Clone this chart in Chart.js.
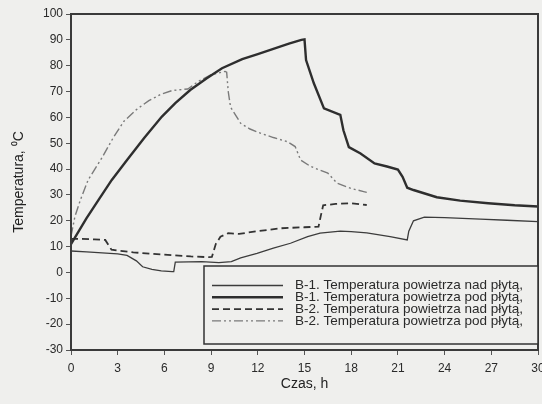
<!DOCTYPE html>
<html>
<head>
<meta charset="utf-8">
<script src="https://cdn.jsdelivr.net/npm/chart.js@4/dist/chart.umd.min.js"></script>
<style>
  html, body { margin: 0; padding: 0; background: #efefed; }
  #wrap { width: 542px; height: 404px; }
</style>
</head>
<body>
<div id="wrap"><canvas id="wykres" width="542" height="404"></canvas></div>
<script>
// czas [h] i temperatura [°C]
var b1NadT = [0, 1, 2, 3, 3.6, 4.2, 4.6, 5.2, 5.8, 6.5, 6.6, 6.7, 8.4, 9.5, 10.3, 10.9, 11.95, 13, 14.1, 15.2, 16, 17.3, 18, 19, 20.5, 21.6, 21.7, 22, 22.7, 24, 26.3, 28, 30];
var b1NadY = [8.3, 8, 7.6, 7.2, 6.6, 4.5, 2.2, 1.2, 0.6, 0.3, 0.3, 4, 4.2, 3.8, 4.2, 5.6, 7.4, 9.4, 11.3, 13.9, 15.2, 16, 15.8, 15.3, 13.9, 12.6, 16, 20, 21.4, 21.2, 20.6, 20.2, 19.7];

var b1PodT = [0, 0.5, 1, 1.76, 2.62, 3.6, 4.7, 5.84, 6.7, 7.66, 8.7, 9.7, 11, 12, 13, 14, 14.8, 15.0, 15.1, 15.6, 16.25, 17.3, 17.5, 17.85, 18.6, 19.5, 20.3, 21, 21.3, 21.6, 22, 23.5, 25, 26.8, 28.5, 30];
var b1PodY = [11, 16, 21, 28, 35.8, 43.5, 52, 60.3, 65.5, 70.6, 75, 79, 82.5, 84.5, 86.5, 88.5, 90, 90.2, 82.2, 73.2, 63.5, 61, 55, 48.5, 46, 42.2, 41, 39.8, 37, 32.8, 31.9, 29.1, 27.8, 26.8, 26, 25.5];

var b2NadT = [0, 0.5, 1.5, 2.2, 2.6, 3.1, 4, 5.2, 6.5, 7.7, 8.85, 9.05, 9.3, 9.6, 10.1, 10.8, 12, 13.5, 15, 15.9, 16.05, 16.2, 17, 18, 19];
var b2NadY = [13, 13, 12.8, 12.6, 8.8, 8.4, 7.8, 7.2, 6.7, 6.2, 5.9, 6, 11, 13.8, 15.2, 14.9, 16, 17.1, 17.5, 17.7, 22, 26, 26.5, 26.8, 26.1];

var b2PodT = [0, 0.25, 0.6, 1.1, 2.0, 2.7, 3.4, 4.2, 5.0, 5.8, 6.5, 7.5, 8.2, 9.0, 9.9, 10.0, 10.1, 10.25, 10.9, 11.5, 12.2, 13.0, 13.9, 14.4, 14.75, 15.4, 16.5, 17.1, 18, 18.8, 19];
var b2PodY = [14, 21.6, 28, 35.8, 44.5, 52, 58.5, 63, 66.5, 69, 70.4, 71, 74, 76.5, 77.8, 77.5, 70, 64, 57.7, 55.5, 53.8, 52.2, 50.6, 48.7, 43.5, 41, 38.4, 34.5, 32.5, 31.3, 31];

var etykiety = [
  "B-1. Temperatura powietrza nad płytą,",
  "B-1. Temperatura powietrza pod płytą,",
  "B-2. Temperatura powietrza nad płytą,",
  "B-2. Temperatura powietrza pod płytą,"
];
var xTicks = [0, 3, 6, 9, 12, 15, 18, 21, 24, 27, 30];
var yTicks = [-30, -20, -10, 0, 10, 20, 30, 40, 50, 60, 70, 80, 90, 100];

var czcionka = "'Liberation Sans', Arial, sans-serif";

function punkty(t, v) {
  return t.map(function (x, i) { return { x: x, y: v[i] }; });
}

// ramka wykresu + legenda w srodku pola wykresu
var ramka = {
  id: 'ramka',
  afterDatasetsDraw: function (chart) {
    var ctx = chart.ctx, a = chart.chartArea;
    ctx.save();
    ctx.strokeStyle = '#3a3a3a';
    ctx.lineWidth = 2;
    ctx.strokeRect(a.left, a.top, a.right - a.left, a.bottom - a.top);

    var bx = a.left + 133, by = a.top + 252, bw = a.right - bx, bh = 78;
    ctx.fillStyle = '#efefed';
    ctx.fillRect(bx, by, bw, bh);
    ctx.lineWidth = 1.5;
    ctx.strokeStyle = '#333';
    ctx.strokeRect(bx, by, bw, bh);

    ctx.font = '13.5px ' + czcionka;
    ctx.textBaseline = 'middle';
    chart.data.datasets.forEach(function (ds, i) {
      var y = by + 19.5 + i * 11.8;
      ctx.beginPath();
      ctx.strokeStyle = ds.borderColor;
      ctx.lineWidth = ds.borderWidth;
      ctx.setLineDash(ds.borderDash || []);
      ctx.moveTo(bx + 8, y);
      ctx.lineTo(bx + 79, y);
      ctx.stroke();
      ctx.setLineDash([]);
      ctx.fillStyle = '#2a2a2a';
      ctx.fillText(ds.label, bx + 91, y);
    });
    ctx.restore();
  }
};

var ctxWykres = document.getElementById('wykres');
var wykres = new Chart(ctxWykres, {
  type: 'line',
  data: {
    datasets: [
      { label: etykiety[0], data: punkty(b1NadT, b1NadY), borderColor: '#3c3c3c', borderWidth: 1.3 },
      { label: etykiety[1], data: punkty(b1PodT, b1PodY), borderColor: '#2e2e2e', borderWidth: 2.4 },
      { label: etykiety[2], data: punkty(b2NadT, b2NadY), borderColor: '#333', borderWidth: 1.8, borderDash: [7, 4] },
      { label: etykiety[3], data: punkty(b2PodT, b2PodY), borderColor: '#7a7a7a', borderWidth: 1.4, borderDash: [9, 3, 2, 3, 2, 3] }
    ]
  },
  options: {
    responsive: false,
    animation: false,
    devicePixelRatio: 1,
    layout: { padding: { left: 0, right: 4, top: 14, bottom: 0 } },
    elements: { point: { radius: 0 }, line: { tension: 0, fill: false } },
    plugins: { legend: { display: false }, tooltip: { enabled: false } },
    scales: {
      x: {
        type: 'linear', min: 0, max: 30,
        afterFit: function (s) { s.height = 54; s.paddingLeft = 0; s.paddingRight = 0; },
        afterBuildTicks: function (s) { s.ticks = xTicks.map(function (v) { return { value: v }; }); },
        grid: { drawOnChartArea: false, drawTicks: true, tickLength: 5, tickColor: '#555', lineWidth: 1 },
        border: { display: true, color: '#333', width: 2 },
        ticks: { color: '#2a2a2a', padding: 6, maxRotation: 0, font: { family: czcionka, size: 12 } },
        title: { display: true, text: 'Czas, h', color: '#222', padding: { top: 0, bottom: 11 }, font: { family: czcionka, size: 14 } }
      },
      y: {
        type: 'linear', min: -30, max: 100,
        afterFit: function (s) { s.width = 71; s.paddingTop = 0; s.paddingBottom = 0; },
        afterBuildTicks: function (s) { s.ticks = yTicks.map(function (v) { return { value: v }; }); },
        grid: { drawOnChartArea: false, drawTicks: true, tickLength: 5, tickColor: '#555', lineWidth: 1 },
        border: { display: true, color: '#333', width: 2 },
        ticks: { color: '#2a2a2a', padding: 3, font: { family: czcionka, size: 12 } },
        title: { display: true, text: 'Temperatura, ⁰C', color: '#222', padding: { top: 11, bottom: 0 }, font: { family: czcionka, size: 14 } }
      }
    }
  },
  plugins: [ramka]
});
</script>
</body>
</html>
